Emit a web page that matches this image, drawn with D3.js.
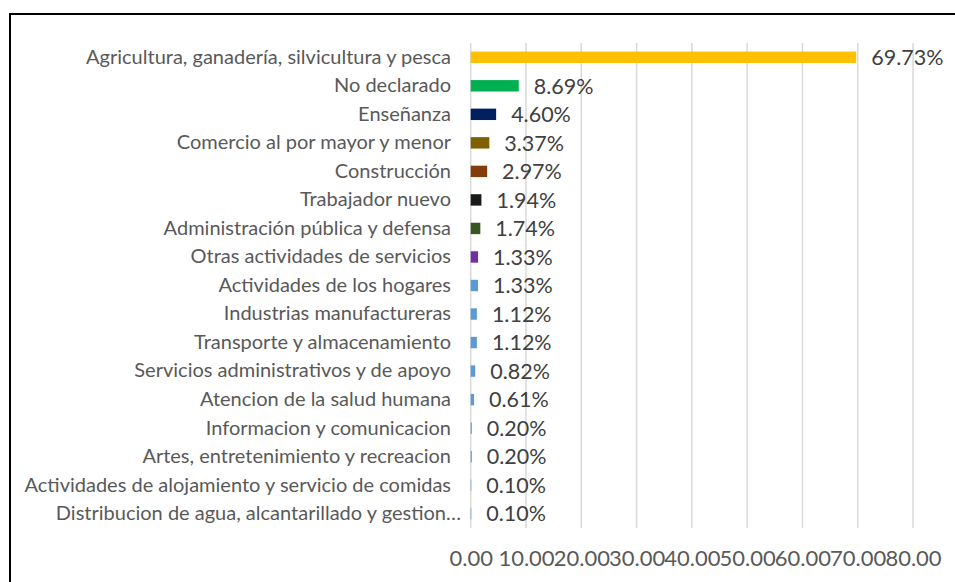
<!DOCTYPE html>
<html>
<head>
<meta charset="utf-8">
<script src="https://cdn.jsdelivr.net/npm/d3@7"></script>
<style>
  body { margin: 0; background: #fff; }
  svg { display: block; font-family: Lato, "Open Sans", sans-serif; }
</style>
</head>
<body>
<svg id="chart" width="955" height="582"></svg>
<script>
// categories, top to bottom
var categories = [
  "Agricultura, ganadería, silvicultura y pesca",
  "No declarado",
  "Enseñanza",
  "Comercio al por mayor y menor",
  "Construcción",
  "Trabajador nuevo",
  "Administración pública y defensa",
  "Otras actividades de servicios",
  "Actividades de los hogares",
  "Industrias manufactureras",
  "Transporte y almacenamiento",
  "Servicios administrativos y de apoyo",
  "Atencion de la salud humana",
  "Informacion y comunicacion",
  "Artes, entretenimiento y recreacion",
  "Actividades de alojamiento y servicio de comidas",
  "Distribucion de agua, alcantarillado y gestion…"
];
var values = [69.73, 8.69, 4.60, 3.37, 2.97, 1.94, 1.74, 1.33, 1.33, 1.12, 1.12, 0.82, 0.61, 0.20, 0.20, 0.10, 0.10];
var barColors = ["#FFC000", "#00B050", "#002060", "#7F6000", "#843C0C", "#1A1A1A", "#375623", "#7030A0",
  "#5B9BD5", "#5B9BD5", "#5B9BD5", "#5B9BD5", "#5B9BD5", "#5B9BD5", "#5B9BD5", "#5B9BD5", "#5B9BD5"];
var xTicks = [0, 10, 20, 30, 40, 50, 60, 70, 80];

var svg = d3.select("#chart");

// frame (only top and left edges show in the picture)
svg.append("path")
  .attr("d", "M10,582 V14 H955")
  .attr("fill", "none")
  .attr("stroke", "#000")
  .attr("stroke-width", 2);

var x = d3.scaleLinear()
  .domain([0, 80])
  .range([470.7, 913]);

var y = d3.scaleBand()
  .domain(categories)
  .range([43, 528])
  .paddingInner(0.6)
  .paddingOuter(0.3);

// vertical gridlines
svg.append("g")
  .selectAll("line")
  .data(xTicks)
  .enter().append("line")
    .attr("x1", d => x(d))
    .attr("x2", d => x(d))
    .attr("y1", 43)
    .attr("y2", 528)
    .attr("stroke", "#d9d9d9")
    .attr("stroke-width", 1.5);

// bars
svg.append("g")
  .selectAll("rect")
  .data(values)
  .enter().append("rect")
    .attr("x", x(0))
    .attr("y", (d, i) => y(categories[i]))
    .attr("width", d => x(d) - x(0))
    .attr("height", y.bandwidth())
    .attr("fill", (d, i) => barColors[i]);

// value labels
svg.append("g")
  .selectAll("text")
  .data(values)
  .enter().append("text")
    .attr("x", d => x(d) + 15)
    .attr("y", (d, i) => y(categories[i]) + y.bandwidth() / 2)
    .attr("dy", "0.36em")
    .attr("fill", "#404040")
    .style("font-size", "21.5px")
    .text(d => d.toFixed(2) + "%");

// category axis
var yAxis = d3.axisLeft(y).tickSize(0).tickPadding(0);
var gy = svg.append("g")
  .attr("transform", "translate(451,0)")
  .call(yAxis);
gy.select(".domain").remove();
gy.selectAll("text")
  .attr("fill", "#595959")
  .style("font-size", "20px")
  .style("font-family", "Lato, sans-serif");
// the truncated label sticks out a bit past the others
gy.selectAll("text").filter(d => d.endsWith("…")).attr("x", 10);

// value axis
var xAxis = d3.axisBottom(x)
  .tickValues(xTicks)
  .tickFormat(d3.format(".2f"))
  .tickSize(0)
  .tickPadding(0);
var gx = svg.append("g")
  .attr("transform", "translate(0,549)")
  .call(xAxis);
gx.select(".domain").remove();
gx.selectAll("text")
  .attr("fill", "#595959")
  .attr("dy", "0.75em")
  .style("font-size", "22px")
  .style("font-family", "Lato, sans-serif");
</script>
</body>
</html>
